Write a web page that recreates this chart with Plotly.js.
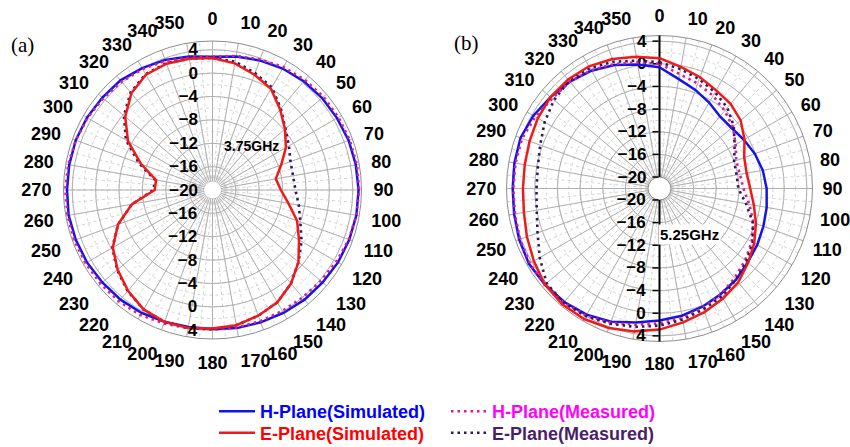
<!DOCTYPE html>
<html><head><meta charset="utf-8">
<script src="https://cdn.plot.ly/plotly-3.0.1.min.js"></script>
<style>html,body{margin:0;padding:0;background:#fff}#chart{width:850px;height:447px}</style>
</head><body><div id="chart"></div>
<script>
// Angles in degrees (0 at top, clockwise)
const angles = [0,10,20,30,40,50,60,70,80,90,100,110,120,130,140,150,160,170,
                180,190,200,210,220,230,240,250,260,270,280,290,300,310,320,330,340,350];
const angleLabels = ['0','10','20','30','40','50','60','70','80','90','100','110','120','130','140','150','160','170',
                     '180','190','200','210','220','230','240','250','260','270','280','290','300','310','320','330','340','350'];

// (a) 3.75 GHz, gain in dB
const a_hsim  = [2.8,3.2,3.6,4.0,4.3,4.5,4.6,4.8,4.9,5.0,5.0,4.9,4.8,4.6,4.5,4.3,4.1,4.0,
                 3.8,3.8,4.0,4.3,4.5,4.6,4.8,4.9,5.0,4.9,4.9,4.9,4.8,4.6,4.5,4.1,3.7,3.2];
const a_hmeas = [2.8,3.3,3.8,4.3,4.6,4.8,4.9,5.0,5.1,5.1,5.0,4.8,4.5,4.2,4.0,3.9,3.9,3.9,
                 3.9,4.0,4.3,4.7,4.9,5.0,5.1,5.2,5.2,5.2,5.1,4.9,4.7,4.4,4.2,3.9,3.5,3.0];
const a_esim  = [2.6,2.0,1.0,0.0,-2.0,-3.8,-5.5,-7.5,-9.0,-8.3,-6.8,-4.6,-2.9,-0.8,0.9,2.2,2.9,3.5,
                 3.7,4.0,4.0,3.6,2.5,1.2,-0.3,-2.8,-6.0,-10.1,-10.2,-7.0,-3.3,-0.5,1.6,2.8,3.0,2.8];
const a_emeas = [2.6,2.3,1.3,0.3,-1.8,-3.7,-4.9,-5.8,-6.0,-5.8,-5.0,-4.0,-2.4,-0.8,0.9,2.2,2.9,3.5,
                 3.8,4.0,4.0,3.6,2.6,1.3,-0.2,-2.8,-6.0,-9.9,-10.0,-6.6,-2.9,-0.2,1.8,2.9,3.1,2.8];

// (b) 5.25 GHz, gain in dB
const b_hsim  = [-0.6,-2.4,-3.5,-4.5,-5.4,-5.4,-4.8,-4.1,-3.5,-3.1,-2.8,-2.5,-2.1,-1.7,-1.0,-0.45,0.2,0.8,
                 1.3,2.0,3.0,3.7,4.15,4.4,4.6,4.35,4.05,3.9,4.0,4.1,3.7,3.1,2.6,2.0,1.2,0.2];
const b_hmeas = [0.0,-1.5,-2.3,-3.1,-4.1,-5.1,-6.5,-7.6,-7.6,-7.2,-5.9,-4.4,-3.2,-2.3,-1.4,-0.4,0.4,1.2,
                 1.8,2.4,3.2,3.9,4.3,4.4,4.4,4.2,3.9,3.8,3.8,3.8,3.3,2.7,2.6,2.1,1.4,0.6];
const b_esim  = [1.0,-0.2,-1.1,-2.0,-2.5,-3.3,-4.7,-6.1,-6.4,-6.0,-5.1,-3.9,-2.7,-1.6,-0.4,0.4,1.2,2.0,
                 2.9,3.6,4.2,4.6,4.7,4.4,3.6,2.9,2.3,2.1,2.15,2.4,2.8,3.1,3.1,2.9,2.3,1.6];
const b_emeas = [0.3,-0.6,-1.5,-2.4,-3.4,-4.9,-6.7,-8.0,-8.2,-8.1,-6.5,-4.5,-3.0,-2.0,-1.0,0.0,0.7,1.5,
                 2.2,2.8,3.4,4.0,4.35,4.0,2.4,0.9,0.0,-0.3,-0.2,0.4,1.4,2.3,2.8,2.5,1.8,0.9];

const radialUp    = [-20,-16,-12,-8,-4,0,4];
const radialDownA = [-16,-12,-8,-4,0,4];
const radialDownB = [-20,-16,-12,-8,-4,0,4];

const names = {
  hsim:  'H-Plane(Simulated)',
  esim:  'E-Plane(Simulated)',
  hmeas: 'H-Plane(Measured)',
  emeas: 'E-Plane(Measured)'
};

const closeLoop = arr => arr.concat([arr[0]]);
const theta = closeLoop(angles);

const C = {
  hsim: '#1414e6', esim: '#ee1b1b', hmeas: '#e0179a', emeas: '#2e1763',
  hsimT: '#0000ff', esimT: '#ff0000', hmeasT: '#ff00ff', emeasT: '#4a1e6a'
};
const LEG = {hsim: 'legend', esim: 'legend2', hmeas: 'legend3', emeas: 'legend4'};
const FONT = 'Liberation Sans, Arial, sans-serif';

function tr(r, subplot, key, show) {
  const meas = key.indexOf('meas') >= 0;
  return {
    type: 'scatterpolar', mode: 'lines', subplot: subplot,
    r: closeLoop(r), theta: theta,
    name: '<span style="color:' + C[key + 'T'] + '">' + names[key] + '</span>',
    legend: LEG[key],
    showlegend: show,
    line: {color: C[key], width: meas ? 2.6 : 2.5, dash: meas ? '2.5px,4px' : 'solid'},
    hoverinfo: 'skip'
  };
}
// empty trace so that a grid/label-only polar subplot gets drawn
function holder(subplot) {
  return {type: 'scatterpolar', mode: 'lines', subplot: subplot, r: [], theta: [],
          showlegend: false, hoverinfo: 'skip'};
}

const data = [holder('polar'), holder('polar2'), holder('polar4'), holder('polar5')];
[['polar3', [a_hsim, a_hmeas, a_emeas, a_esim], true],
 ['polar6', [b_hsim, b_hmeas, b_emeas, b_esim], false]].forEach(([sp, arrs, show]) => {
  data.push(tr(arrs[0], sp, 'hsim', show));
  data.push(tr(arrs[1], sp, 'hmeas', show));
  data.push(tr(arrs[2], sp, 'emeas', show));
  data.push(tr(arrs[3], sp, 'esim', show));
});

function polars(domain, range, hole, axisLine, downVals) {
  const tf = {family: FONT, size: 17, color: '#000', weight: 'bold'};
  const tickCol = axisLine ? '#000' : 'rgba(0,0,0,0)';
  const minor = {
    domain: domain, hole: hole, bgcolor: '#fff',
    radialaxis: {range: range, tick0: -20, dtick: 2, angle: 90, showticklabels: false, ticks: '',
                 showline: false, gridcolor: '#d4d4d4', griddash: 'dot', gridwidth: 1},
    angularaxis: {rotation: 90, direction: 'clockwise', dtick: 5, showticklabels: false, ticks: '',
                  showline: false, gridcolor: '#d4d4d4', griddash: 'dot', gridwidth: 1}
  };
  const major = {
    domain: domain, hole: hole, bgcolor: 'rgba(0,0,0,0)',
    radialaxis: {range: range, tickvals: radialUp, angle: 90, side: 'counterclockwise', tickangle: 90,
                 showline: axisLine, linecolor: '#000', linewidth: 2,
                 ticks: 'outside', ticklen: axisLine ? 6 : 8, tickwidth: 1.5, tickcolor: tickCol,
                 gridcolor: '#b0b0b0', gridwidth: 1, tickfont: tf},
    angularaxis: {rotation: 90, direction: 'clockwise', tickmode: 'array',
                  tickvals: angles, ticktext: angleLabels,
                  showline: true, linecolor: '#8c8c8c', linewidth: 1,
                  ticks: 'outside', ticklen: axisLine ? 6 : 8, tickcolor: 'rgba(0,0,0,0)',
                  gridcolor: '#b0b0b0', gridwidth: 1,
                  tickfont: {family: FONT, size: 18, color: '#000', weight: 'bold'}}
  };
  const down = {
    domain: domain, hole: hole, bgcolor: 'rgba(0,0,0,0)',
    radialaxis: {range: range, tickvals: downVals, angle: 270, side: 'clockwise', tickangle: -90,
                 showline: axisLine, linecolor: '#000', linewidth: 2,
                 ticks: 'outside', ticklen: axisLine ? 6 : 8, tickwidth: 1.5, tickcolor: tickCol,
                 showgrid: false, tickfont: tf},
    angularaxis: {rotation: 90, direction: 'clockwise', showgrid: false, showticklabels: false,
                  ticks: '', showline: false}
  };
  return [minor, major, down];
}

const W = 850, H = 447;
function dom(cx, cy, R) {
  return {x: [(cx - R) / W, (cx + R) / W], y: [1 - (cy + R) / H, 1 - (cy - R) / H]};
}
const pa = polars(dom(212.5, 190, 149), [-20, 5.5], 0, false, radialDownA);
const pb = polars(dom(659.5, 188.5, 153), [-20, 5], 0.075, true, radialDownB);

function leg(x, yPix) {
  return {x: x / W, y: 1 - yPix / H, xanchor: 'left', yanchor: 'middle', orientation: 'v',
          bgcolor: 'rgba(0,0,0,0)', itemwidth: 36, tracegroupgap: 0,
          font: {family: FONT, size: 18, weight: 'bold'}};
}

const layout = {
  width: W, height: H,
  margin: {l: 0, r: 0, t: 0, b: 0, autoexpand: false},
  paper_bgcolor: '#fff',
  font: {family: FONT, color: '#000'},
  polar: pa[0], polar2: pa[1], polar3: pa[2],
  polar4: pb[0], polar5: pb[1], polar6: pb[2],
  legend: leg(214, 411.5),
  legend2: leg(214, 433),
  legend3: leg(446, 411.5),
  legend4: leg(446, 433),
  shapes: [
    {type: 'circle', xref: 'paper', yref: 'paper', layer: 'above',
     x0: (212.5 - 8.5) / W, x1: (212.5 + 8.5) / W, y0: 1 - (190 + 8.5) / H, y1: 1 - (190 - 8.5) / H,
     fillcolor: '#fff', line: {width: 0}}
  ],
  annotations: [
    {text: '(a)', xref: 'paper', yref: 'paper', x: 22 / W, y: 1 - 45 / H, showarrow: false,
     xanchor: 'center', yanchor: 'middle',
     font: {family: 'Liberation Serif, Times New Roman, serif', size: 21, color: '#000'}},
    {text: '(b)', xref: 'paper', yref: 'paper', x: 466 / W, y: 1 - 43 / H, showarrow: false,
     xanchor: 'center', yanchor: 'middle',
     font: {family: 'Liberation Serif, Times New Roman, serif', size: 21, color: '#000'}},
    {text: '<b>3.75GHz</b>', xref: 'paper', yref: 'paper', x: 251 / W, y: 1 - 146 / H, showarrow: false,
     xanchor: 'center', yanchor: 'middle',
     font: {family: FONT, size: 14, color: '#000'}},
    {text: '<b>5.25GHz</b>', xref: 'paper', yref: 'paper', x: 689 / W, y: 1 - 234 / H, showarrow: false,
     xanchor: 'center', yanchor: 'middle',
     bgcolor: '#fff', borderpad: 1, font: {family: FONT, size: 15, color: '#000'}}
  ]
};

Plotly.newPlot('chart', data, layout, {staticPlot: true, displayModeBar: false});
</script>
</body></html>
